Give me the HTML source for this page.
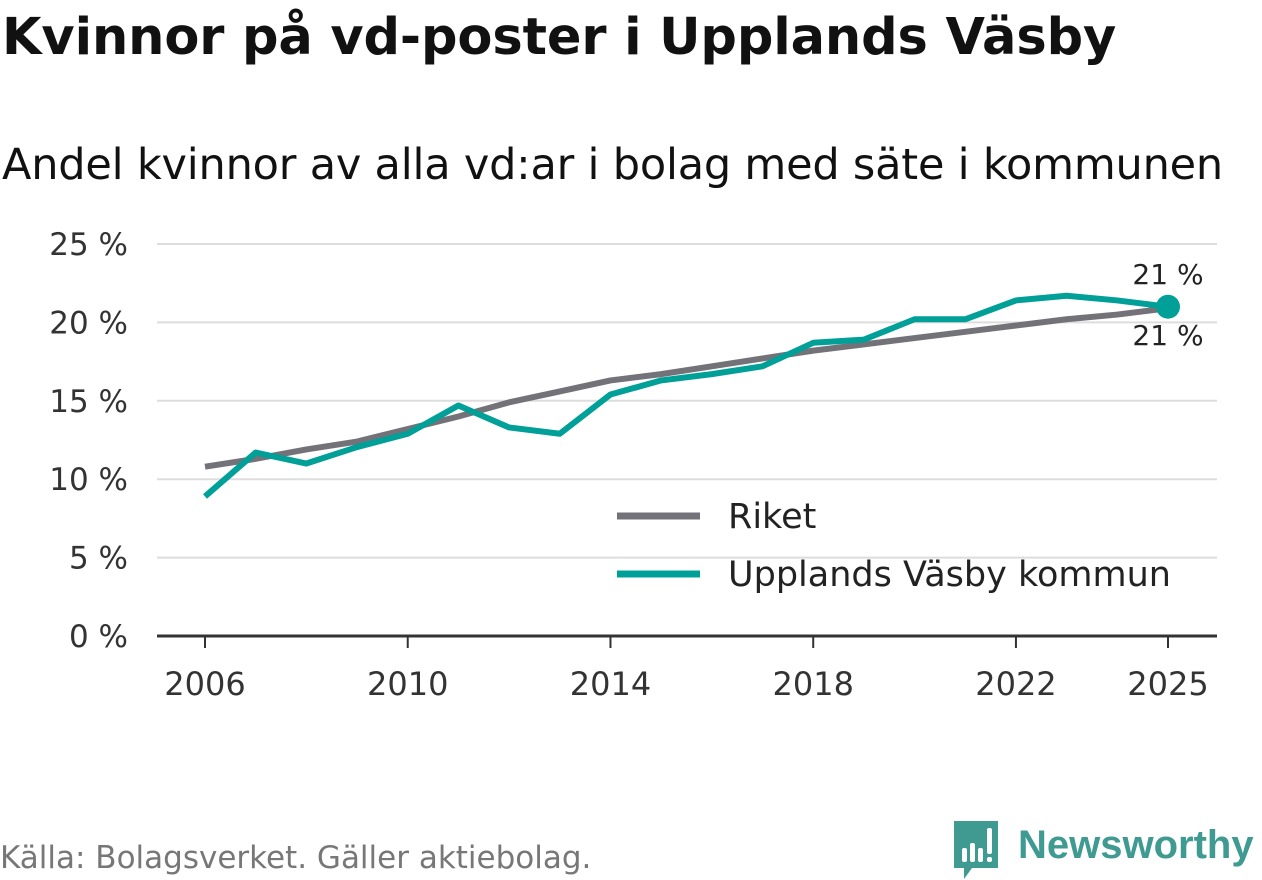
<!DOCTYPE html>
<html><head><meta charset="utf-8"><style>
body{margin:0;background:#fff;width:1262px;height:879px;overflow:hidden;font-family:"DejaVu Sans","Liberation Sans",sans-serif;}
#t{position:absolute;left:2px;top:8px;font-size:51px;font-weight:bold;color:#111;margin:0;letter-spacing:-0.1px;white-space:nowrap}
#s{position:absolute;left:2px;top:140px;font-size:43px;color:#111;letter-spacing:-0.2px;white-space:nowrap}
#src{position:absolute;left:0;top:840px;font-size:31px;color:#777;white-space:nowrap}
#logo{position:absolute;left:952px;top:818px}
</style></head><body>
<h1 id="t">Kvinnor på vd-poster i Upplands Väsby</h1>
<div id="s">Andel kvinnor av alla vd:ar i bolag med säte i kommunen</div>
<div id="src">Källa: Bolagsverket. Gäller aktiebolag.</div>
<svg id="logo" width="310" height="62">
<path d="M2 3h44v47H20l-8 11v-11H2z" fill="#3f9a92"/>
<rect x="10" y="30" width="5" height="14" rx="2" fill="#fff"/><rect x="18" y="25" width="5" height="19" rx="2" fill="#fff"/><rect x="26" y="30" width="5" height="14" rx="2" fill="#fff"/><rect x="35" y="10" width="5" height="26" rx="2" fill="#fff"/><rect x="35" y="39" width="5" height="5" rx="2" fill="#fff"/>
<text x="66" y="40" font-size="40" font-weight="bold" fill="#3f9a92" font-family="Liberation Sans, sans-serif">Newsworthy</text>
</svg>
<svg id="chart" width="1262" height="879" style="position:absolute;left:0;top:0"></svg>
<script>
const years=[2006,2007,2008,2009,2010,2011,2012,2013,2014,2015,2016,2017,2018,2019,2020,2021,2022,2023,2024,2025];
const riket=[10.8,11.3,11.9,12.4,13.2,14.0,14.9,15.6,16.3,16.7,17.2,17.7,18.2,18.6,19.0,19.4,19.8,20.2,20.5,20.9];
const vasby=[8.9,11.7,11.0,12.05,12.9,14.7,13.3,12.9,15.4,16.3,16.7,17.2,18.7,18.9,20.2,20.2,21.4,21.7,21.4,21.0];
const yTicks=[0,5,10,15,20,25];
const xTicks=[2006,2010,2014,2018,2022,2025];
const NS="http://www.w3.org/2000/svg";
const svg=document.getElementById('chart');
const x=v=>205+(v-2006)*(1168-205)/19;
const y=v=>636-v*(636-244)/25;
function el(t,a,p){const e=document.createElementNS(NS,t);for(const k in a)e.setAttribute(k,a[k]);(p||svg).appendChild(e);return e;}
yTicks.forEach(v=>{
 if(v>0){const g=el('line',{x1:157,x2:1217,y1:y(v),y2:y(v),stroke:'#ddd','stroke-width':2});
 
 }
 const t=el('text',{x:128,y:y(v)+11,'text-anchor':'end','font-size':31,fill:'#333'});t.textContent=v+' %';
 
 
});
const ax=el('line',{x1:157,x2:1217,y1:636,y2:636,stroke:'#333','stroke-width':3});


xTicks.forEach(v=>{
 el('line',{x1:x(v),x2:x(v),y1:636,y2:648,stroke:'#333','stroke-width':2});
 const t=el('text',{x:x(v),y:695,'text-anchor':'middle','font-size':32,fill:'#333'});t.textContent=v;
 
 
});
function line(d,c,name){const p=el('polyline',{points:d.map((v,i)=>x(years[i])+','+y(v)).join(' '),fill:'none',stroke:c,'stroke-width':6,'stroke-linejoin':'round'});
 
 }
line(riket,'#737278','riket-line');
el('rect',{x:604,y:495,width:588,height:60,fill:'#fff'});
line(vasby,'#00a099','vasby-line');
const dot=el('circle',{cx:x(2025),cy:y(vasby[19]),r:12,fill:'#00a099'});


const l1=el('text',{x:1168,y:284,'text-anchor':'middle','font-size':28,fill:'#222'});l1.textContent=Math.round(vasby[19])+' %';


const l2=el('text',{x:1168,y:345,'text-anchor':'middle','font-size':28,fill:'#222'});l2.textContent=Math.round(riket[19])+' %';


[['Riket','#737278',516],['Upplands Väsby kommun','#00a099',574]].forEach(([n,c,yy])=>{
 el('line',{x1:617,x2:700,y1:yy,y2:yy,stroke:c,'stroke-width':7});
 const t=el('text',{x:728,y:yy+12,'font-size':35,fill:'#222'});t.textContent=n;
 
 
});
</script>
</body></html>
